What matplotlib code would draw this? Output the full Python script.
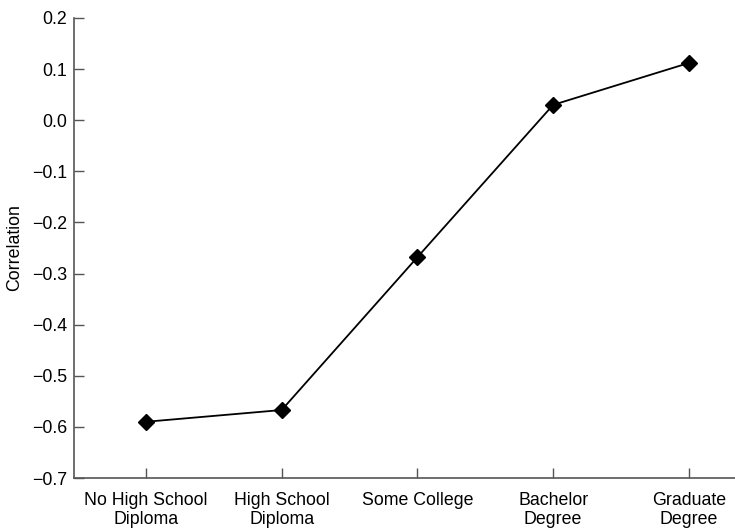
import numpy as np
import matplotlib.pyplot as plt

plt.rcParams['font.family'] = ['Liberation Sans', 'DejaVu Sans']

# data
categories = ['No High School\nDiploma', 'High School\nDiploma', 'Some College',
              'Bachelor\nDegree', 'Graduate\nDegree']
correlation = [-0.59, -0.567, -0.268, 0.030, 0.112]
y_ticks = [-0.7, -0.6, -0.5, -0.4, -0.3, -0.2, -0.1, 0.0, 0.1, 0.2]

fig = plt.figure(figsize=(7.35, 5.29), dpi=100)
ax = fig.add_axes([0.1007, 0.0964, 0.8993, 0.8696])

x = np.arange(len(categories))
ax.plot(x, correlation, color='black', lw=1.3, marker='D', markersize=8.5,
        markerfacecolor='black', markeredgecolor='black')

ax.set_xlim(-0.53, 4.34)
ax.set_ylim(-0.7, 0.2)
ax.set_xticks(x)
ax.set_xticklabels(categories, fontsize=12.8, linespacing=1.15)
ax.set_yticks(y_ticks)
ax.set_yticklabels([f'{v:.1f}'.replace('-', '\u2212') for v in y_ticks], fontsize=12.8)
ax.set_ylabel('Correlation', fontsize=12.8)
ax.yaxis.set_label_coords(-0.077, 0.5)

for side in ['top', 'right']:
    ax.spines[side].set_visible(False)
for side in ['left', 'bottom']:
    ax.spines[side].set_color('#555555')
    ax.spines[side].set_linewidth(1.2)
ax.tick_params(axis='both', direction='in', length=7, width=1, color='#555555')
ax.tick_params(axis='y', pad=5)
ax.tick_params(axis='x', pad=10)

fig.savefig('out.png', dpi=100)
